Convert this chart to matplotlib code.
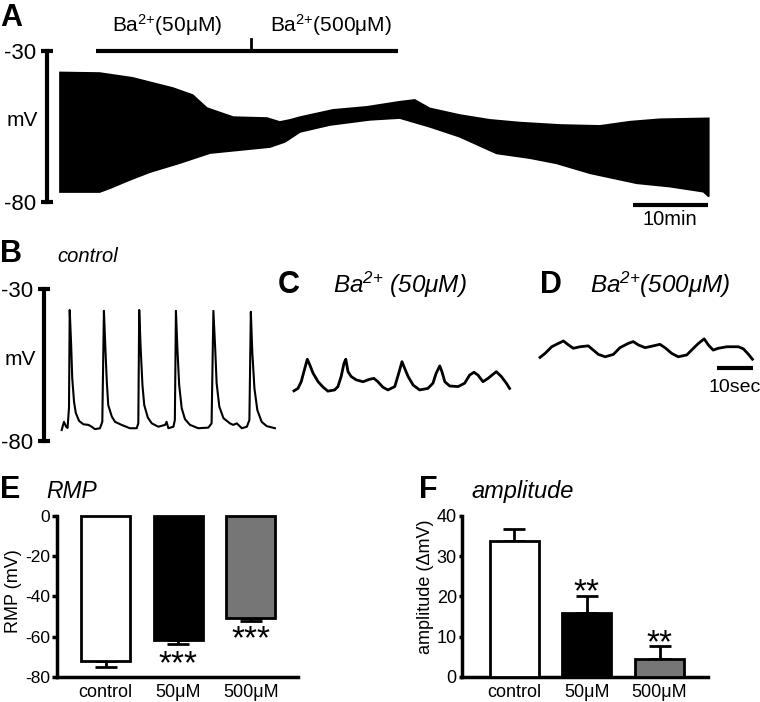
#!/usr/bin/env python3
"""Ba2+ block: long recording, example traces and RMP / amplitude summary."""

import matplotlib

matplotlib.use("Agg")

import matplotlib.pyplot as plt
import numpy as np

W, H = 760, 702

# panel A: envelope of the spiking band over the whole recording (min, mV)
a_top_t = [0, 5.3, 9.7, 12.4, 15.1, 17.7, 19.6, 23.1, 27.6, 29.3, 30.7, 32.0, 36.4,
           40.9, 45.3, 47.3, 49.3, 53.3, 57.3, 61.3, 66.7, 72.0, 76.0, 80.0, 86.5]
a_top_mv = [-37.1, -37.3, -38.9, -40.6, -42.3, -44.6, -48.9, -51.9, -52.2, -53.5, -52.8,
            -51.9, -49.5, -48.5, -46.8, -46.2, -49.0, -51.2, -52.8, -53.7, -54.5, -54.8,
            -53.4, -52.6, -52.3]
a_bot_t = [0, 5.3, 6.7, 9.3, 12.0, 16.0, 20.0, 24.0, 28.0, 30.0, 32.0, 36.0, 41.3, 45.3,
           49.3, 53.3, 58.2, 62.7, 66.2, 70.7, 76.9, 81.3, 85.8, 86.5]
a_bot_mv = [-76.7, -76.7, -75.4, -72.7, -70.1, -67.1, -63.8, -62.8, -61.8, -60.1, -56.8,
            -54.5, -52.8, -52.2, -55.1, -58.4, -63.9, -65.5, -67.2, -70.5, -73.8, -74.9,
            -76.6, -78.2]
ba50_start, ba500_start, ba_end = 4.8, 25.5, 45.1  # min

# panel B: control (s, mV)
b_t = [0.47, 1.1, 1.7, 2.1, 2.5, 2.7, 3.1, 3.4, 3.9, 4.4, 5.3, 6.5, 7.9, 8.8, 9.7, 11.1,
       11.75, 12.2, 12.6, 13.0, 13.4, 14.4, 15.3, 17.1, 19.4, 21.3, 21.75, 22.0, 22.4,
       22.9, 23.4, 24.4, 25.5, 27.3, 29.2, 29.6, 30.1, 31.5, 31.9, 32.2, 32.6, 33.1, 33.8,
       34.7, 36.1, 38.4, 41.2, 42.1, 42.6, 43.1, 43.5, 44.25, 45.4, 47.2, 48.1, 49.1,
       50.5, 51.9, 52.6, 53.0, 53.4, 54.0, 54.8, 56.0, 57.4, 59.7]
b_mv = [-76.4, -73.7, -75.3, -75.7, -69.1, -36.9, -48.4, -59.3, -67.1, -70.8, -73.4,
        -74.5, -74.7, -75.3, -76.1, -75.8, -73.7, -37.2, -49.4, -60.5, -68.2, -72.0,
        -73.7, -74.7, -75.8, -75.8, -74.2, -36.9, -49.4, -61.6, -68.2, -72.3, -74.2,
        -75.3, -74.7, -73.7, -75.8, -75.3, -73.1, -37.2, -49.5, -61.6, -69.2, -72.8,
        -74.7, -75.8, -75.6, -74.2, -37.2, -49.5, -61.0, -68.7, -72.5, -74.2, -74.7,
        -74.2, -75.8, -75.3, -73.1, -37.5, -50.6, -62.7, -69.8, -73.7, -75.1, -75.8]

# panel C: Ba2+ 50 uM
c_t = [0, 1.1, 2.0, 3.0, 3.7, 4.4, 5.3, 6.7, 8.1, 9.4, 11.3, 12.2, 13.1, 13.9, 14.4,
       15.0, 15.9, 17.3, 19.2, 21.0, 22.2, 23.3, 24.7, 26.1, 28.0, 29.1, 30.0, 30.75,
       31.7, 33.1, 34.9, 37.2, 38.6, 39.5, 40.5, 41.1, 41.9, 43.25, 45.6, 47.4, 48.8,
       50.0, 51.1, 52.5, 53.9, 56.2, 57.6, 59.0, 59.9]
c_mv = [-63.5, -62.7, -60.5, -56.1, -53.1, -55.0, -57.7, -60.5, -62.3, -63.6, -63.2,
        -62.1, -58.8, -54.4, -53.1, -57.2, -58.8, -59.9, -60.5, -59.7, -59.4, -60.5,
        -62.3, -63.2, -62.1, -57.7, -53.9, -56.1, -58.8, -61.6, -63.2, -62.7, -61.0,
        -57.7, -55.3, -57.2, -60.5, -61.9, -62.1, -61.0, -58.3, -57.4, -58.3, -60.5,
        -59.4, -57.2, -58.8, -61.0, -62.7]

# panel D: Ba2+ 500 uM
d_t = [0, 1.4, 3.25, 5.1, 6.5, 7.9, 9.25, 11.1, 13.4, 14.8, 16.2, 18.1, 20.4, 22.2,
       24.5, 25.9, 27.3, 29.2, 31.5, 33.3, 34.7, 36.6, 38.4, 40.75, 42.6, 44.0, 45.6,
       46.75, 48.1, 49.5, 51.9, 55.1, 56.5, 57.9, 59.0]
d_mv = [-52.5, -51.2, -49.0, -47.9, -47.1, -48.4, -49.5, -49.0, -48.7, -50.1, -51.5,
        -52.3, -51.5, -49.3, -47.9, -47.3, -48.4, -49.3, -48.7, -48.2, -49.3, -51.2,
        -52.3, -51.7, -49.5, -47.9, -46.4, -48.4, -50.1, -49.5, -49.0, -49.0, -49.7,
        -51.5, -53.1]

# panels E / F
groups = ["control", "50μM", "500μM"]
rmp_mean = [-72.1, -61.7, -50.6]
rmp_sem = [3.2, 2.2, 1.5]
rmp_stars = ["", "***", "***"]
amp_mean = [33.8, 15.8, 4.4]
amp_sem = [2.9, 4.3, 3.3]
amp_stars = ["", "**", "**"]
bar_colors = ["white", "black", "#767676"]

BA = "Ba$^{2{+}}$"


def px_axes(fig, left, top, right, bottom):
    return fig.add_axes([left / W, 1 - bottom / H, (right - left) / W, (bottom - top) / H])


def px_text(fig, x, y, s, **kw):
    return fig.text(x / W, 1 - y / H, s, **kw)


def trace_axis(ax):
    for side in ("top", "right", "bottom"):
        ax.spines[side].set_visible(False)
    ax.spines["left"].set_linewidth(3)
    ax.set_ylim(-80, -30)
    ax.set_yticks([-30, -80])
    ax.set_xticks([])
    ax.tick_params(axis="y", direction="inout", length=9, width=3, labelsize=16, pad=3)
    ax.patch.set_visible(False)


def bar_panel(ax, means, sems, stars, star_y, ylim, yticks, down):
    x = np.arange(len(groups))
    zeros = np.zeros(len(groups))
    ax.bar(x, means, width=0.675, color=bar_colors, edgecolor="black", linewidth=2,
           zorder=3, clip_on=False)
    yerr = [sems, zeros] if down else [zeros, sems]
    ax.errorbar(x, means, yerr=yerr, fmt="none", ecolor="black", elinewidth=2,
                capsize=8, capthick=2, zorder=2, clip_on=False)
    for xi, s, yy in zip(x, stars, star_y):
        if s:
            ax.text(xi, yy, s, ha="center", va="baseline", fontsize=24, clip_on=False)
    ax.set_ylim(*ylim)
    ax.set_yticks(yticks)
    ax.set_xticks(x)
    ax.set_xticklabels(groups)
    for side in ("top", "right"):
        ax.spines[side].set_visible(False)
    for side in ("left", "bottom"):
        ax.spines[side].set_linewidth(2.5)
    ax.tick_params(axis="y", length=3.5, width=2.5, labelsize=12.5, pad=1.5)
    ax.tick_params(axis="x", length=0, labelsize=13, pad=5)
    ax.patch.set_visible(False)


def main():
    plt.rcParams["font.family"] = ["Liberation Sans", "DejaVu Sans"]
    plt.rcParams["mathtext.default"] = "regular"
    plt.rcParams["axes.unicode_minus"] = False

    fig = plt.figure(figsize=(W / 100, H / 100), dpi=100)

    # A
    ax = px_axes(fig, 47, 51, 715, 202)
    trace_axis(ax)
    ax.set_xlim(-1.73, 87.33)
    ax.fill(np.concatenate([a_top_t, a_bot_t[::-1]]),
            np.concatenate([a_top_mv, a_bot_mv[::-1]]),
            color="black", lw=1.2)
    ax.plot([ba50_start, ba_end], [-29.9, -29.9], color="black", lw=3,
            solid_capstyle="butt", clip_on=False)
    ax.plot([ba500_start, ba500_start], [-29.9, -25.9], color="black", lw=2,
            clip_on=False)
    ax.plot([76.4, 86.4], [-81.0, -81.0], color="black", lw=3,
            solid_capstyle="butt", clip_on=False)
    px_text(fig, 112, 32, BA + "(50μM)", fontsize=15, va="baseline")
    px_text(fig, 270, 32, BA + "(500μM)", fontsize=15, va="baseline")
    px_text(fig, 670, 220, "10min", fontsize=14.5, ha="center", va="center")
    px_text(fig, 22, 120, "mV", fontsize=15, ha="center", va="center")

    # B
    ax = px_axes(fig, 44, 289, 280, 441)
    trace_axis(ax)
    ax.set_xlim(-4.44, 61.1)
    ax.plot(b_t, b_mv, color="black", lw=1.5)
    px_text(fig, 20, 360, "mV", fontsize=15, ha="center", va="center")

    # C
    ax = px_axes(fig, 290, 289, 515, 441)
    ax.axis("off")
    ax.set_xlim(-1.11, 61.4)
    ax.set_ylim(-80, -30)
    ax.plot(c_t, c_mv, color="black", lw=2)

    # D
    ax = px_axes(fig, 535, 289, 760, 441)
    ax.axis("off")
    ax.set_xlim(-1.39, 61.1)
    ax.set_ylim(-80, -30)
    ax.plot(d_t, d_mv, color="black", lw=2)
    ax.plot([49.2, 59.2], [-56.1, -56.1], color="black", lw=3, solid_capstyle="butt")
    px_text(fig, 735, 387, "10sec", fontsize=14, ha="center", va="center")

    # E
    ax = px_axes(fig, 57, 516, 298, 676.7)
    bar_panel(ax, rmp_mean, rmp_sem, rmp_stars, [0, -78.1, -65.7], (-80, 0),
              [0, -20, -40, -60, -80], down=True)
    ax.set_xlim(-0.668, 2.65)
    px_text(fig, 13, 591, "RMP (mV)", fontsize=13, rotation=90, ha="center", va="center")

    # F
    ax = px_axes(fig, 461.7, 516, 708.3, 676.7)
    bar_panel(ax, amp_mean, amp_sem, amp_stars, [0, 18.9, 6.1], (0, 40),
              [0, 10, 20, 30, 40], down=False)
    ax.set_xlim(-0.722, 2.67)
    ax.tick_params(axis="y", labelsize=13, length=2, pad=1.5)
    px_text(fig, 426, 587, "amplitude (ΔmV)", fontsize=13, rotation=90,
            ha="center", va="center")

    # panel letters and titles
    for letter, x, y in [("A", 0, 26), ("B", 0, 262), ("C", 278, 293),
                         ("D", 540, 293), ("E", 0, 498), ("F", 419, 498)]:
        px_text(fig, x, y, letter, fontsize=22, fontweight="bold", va="baseline")
    px_text(fig, 57, 262, "control", fontsize=14.5, style="italic", va="baseline")
    px_text(fig, 333, 293, BA + " (50μM)", fontsize=17.5, style="italic", va="baseline")
    px_text(fig, 590, 293, BA + "(500μM)", fontsize=17.5, style="italic", va="baseline")
    px_text(fig, 46, 498, "RMP", fontsize=16.5, style="italic", va="baseline")
    px_text(fig, 471, 498, "amplitude", fontsize=17, style="italic", va="baseline")

    fig.savefig("out.png", dpi=100)
    plt.close(fig)


if __name__ == "__main__":
    main()
